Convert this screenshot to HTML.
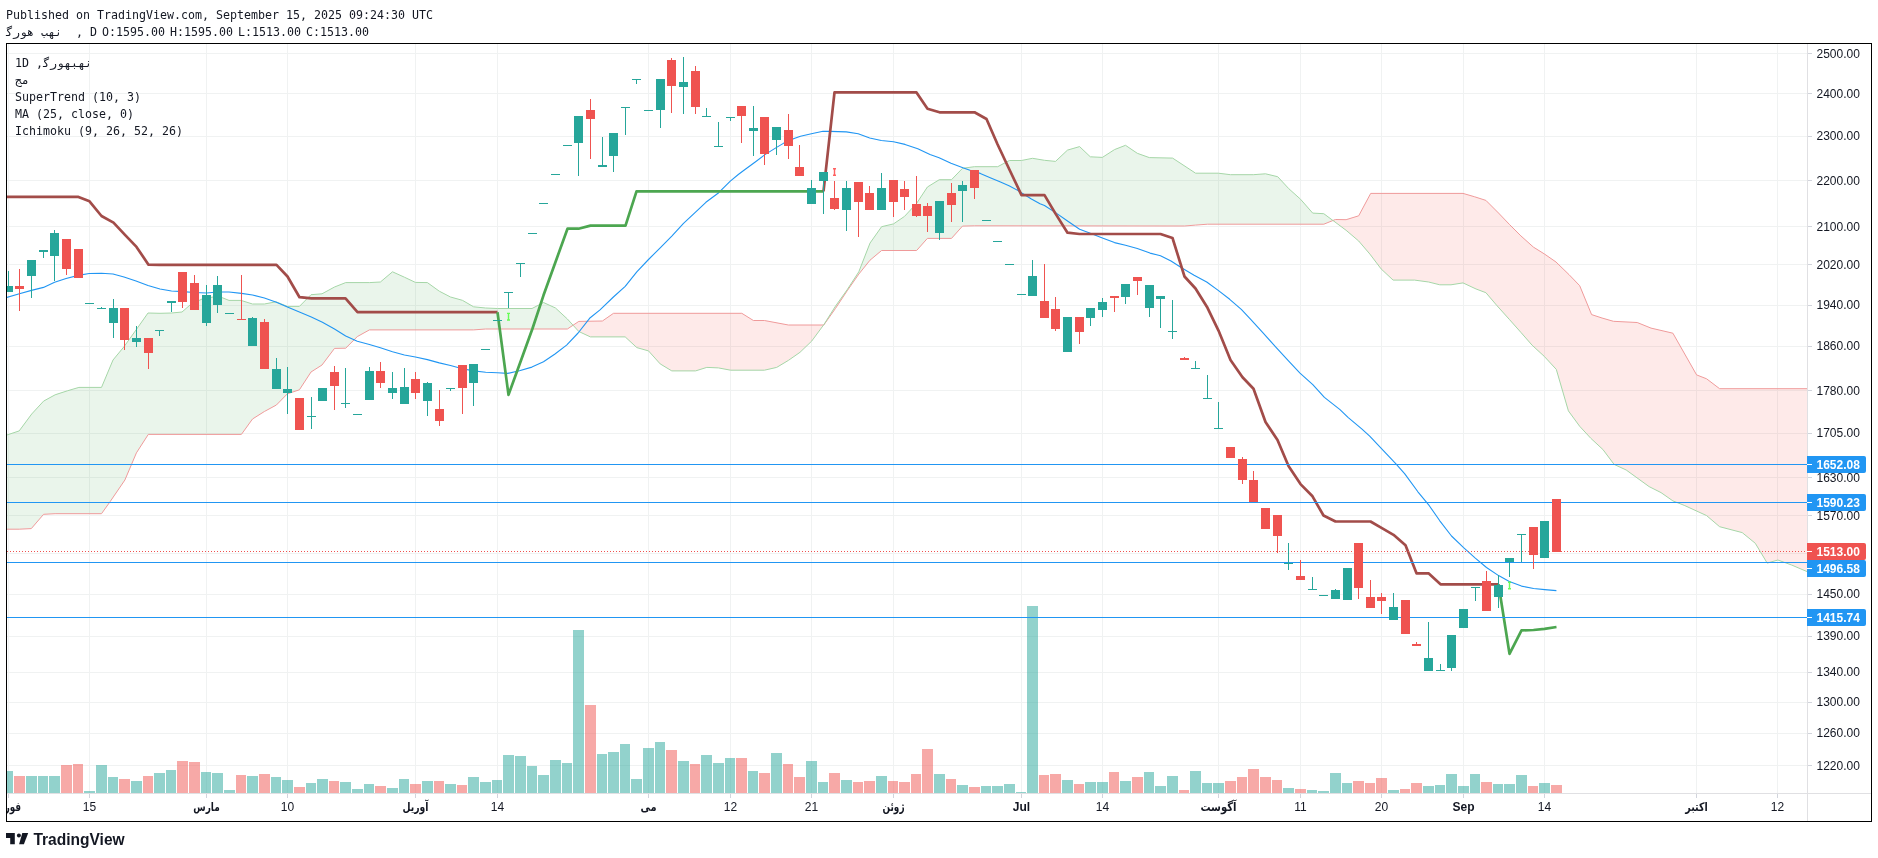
<!DOCTYPE html>
<html><head><meta charset="utf-8"><title>TradingView chart</title>
<style>
html,body{margin:0;padding:0;background:#fff;}
body{width:1878px;height:858px;overflow:hidden;position:relative;}
.mono{font-family:"DejaVu Sans Mono","Liberation Mono",monospace;font-size:11.63px;color:#131722;position:absolute;white-space:pre;line-height:14px;}
.frame{position:absolute;left:6px;top:43px;width:1864px;height:777px;border:1px solid #000;}
.logo{position:absolute;left:6px;top:833px;height:12px;}
.tvtext{position:absolute;left:33px;top:829px;font-family:"Liberation Sans",sans-serif;font-weight:bold;font-size:15.5px;color:#131722;letter-spacing:-0.2px;}
</style></head><body>
<div id="wrap" style="position:absolute;left:0;top:0;width:1878px;height:858px;will-change:transform">
<svg width="1878" height="858" viewBox="0 0 1878 858" style="position:absolute;left:0;top:0">
<defs><clipPath id="pane"><rect x="7" y="44" width="1800" height="749"/></clipPath><clipPath id="taxis" clipPathUnits="userSpaceOnUse"><rect x="7" y="794" width="1800" height="27"/></clipPath></defs>
<g clip-path="url(#pane)">
<line x1="7" y1="53.5" x2="1807" y2="53.5" stroke="#f0f2f2" stroke-width="1"/>
<line x1="7" y1="93.5" x2="1807" y2="93.5" stroke="#f0f2f2" stroke-width="1"/>
<line x1="7" y1="136.5" x2="1807" y2="136.5" stroke="#f0f2f2" stroke-width="1"/>
<line x1="7" y1="180.5" x2="1807" y2="180.5" stroke="#f0f2f2" stroke-width="1"/>
<line x1="7" y1="226.5" x2="1807" y2="226.5" stroke="#f0f2f2" stroke-width="1"/>
<line x1="7" y1="264.5" x2="1807" y2="264.5" stroke="#f0f2f2" stroke-width="1"/>
<line x1="7" y1="305.5" x2="1807" y2="305.5" stroke="#f0f2f2" stroke-width="1"/>
<line x1="7" y1="346.5" x2="1807" y2="346.5" stroke="#f0f2f2" stroke-width="1"/>
<line x1="7" y1="390.5" x2="1807" y2="390.5" stroke="#f0f2f2" stroke-width="1"/>
<line x1="7" y1="433.5" x2="1807" y2="433.5" stroke="#f0f2f2" stroke-width="1"/>
<line x1="7" y1="477.5" x2="1807" y2="477.5" stroke="#f0f2f2" stroke-width="1"/>
<line x1="7" y1="515.5" x2="1807" y2="515.5" stroke="#f0f2f2" stroke-width="1"/>
<line x1="7" y1="553.5" x2="1807" y2="553.5" stroke="#f0f2f2" stroke-width="1"/>
<line x1="7" y1="594.5" x2="1807" y2="594.5" stroke="#f0f2f2" stroke-width="1"/>
<line x1="7" y1="636.5" x2="1807" y2="636.5" stroke="#f0f2f2" stroke-width="1"/>
<line x1="7" y1="672.5" x2="1807" y2="672.5" stroke="#f0f2f2" stroke-width="1"/>
<line x1="7" y1="702.5" x2="1807" y2="702.5" stroke="#f0f2f2" stroke-width="1"/>
<line x1="7" y1="733.5" x2="1807" y2="733.5" stroke="#f0f2f2" stroke-width="1"/>
<line x1="7" y1="765.5" x2="1807" y2="765.5" stroke="#f0f2f2" stroke-width="1"/>
<line x1="8.5" y1="44" x2="8.5" y2="793" stroke="#f0f2f2" stroke-width="1"/>
<line x1="89.5" y1="44" x2="89.5" y2="793" stroke="#f0f2f2" stroke-width="1"/>
<line x1="206.5" y1="44" x2="206.5" y2="793" stroke="#f0f2f2" stroke-width="1"/>
<line x1="287.5" y1="44" x2="287.5" y2="793" stroke="#f0f2f2" stroke-width="1"/>
<line x1="415.5" y1="44" x2="415.5" y2="793" stroke="#f0f2f2" stroke-width="1"/>
<line x1="497.5" y1="44" x2="497.5" y2="793" stroke="#f0f2f2" stroke-width="1"/>
<line x1="648.5" y1="44" x2="648.5" y2="793" stroke="#f0f2f2" stroke-width="1"/>
<line x1="730.5" y1="44" x2="730.5" y2="793" stroke="#f0f2f2" stroke-width="1"/>
<line x1="811.5" y1="44" x2="811.5" y2="793" stroke="#f0f2f2" stroke-width="1"/>
<line x1="893.5" y1="44" x2="893.5" y2="793" stroke="#f0f2f2" stroke-width="1"/>
<line x1="1021.5" y1="44" x2="1021.5" y2="793" stroke="#f0f2f2" stroke-width="1"/>
<line x1="1102.5" y1="44" x2="1102.5" y2="793" stroke="#f0f2f2" stroke-width="1"/>
<line x1="1218.5" y1="44" x2="1218.5" y2="793" stroke="#f0f2f2" stroke-width="1"/>
<line x1="1300.5" y1="44" x2="1300.5" y2="793" stroke="#f0f2f2" stroke-width="1"/>
<line x1="1381.5" y1="44" x2="1381.5" y2="793" stroke="#f0f2f2" stroke-width="1"/>
<line x1="1463.5" y1="44" x2="1463.5" y2="793" stroke="#f0f2f2" stroke-width="1"/>
<line x1="1544.5" y1="44" x2="1544.5" y2="793" stroke="#f0f2f2" stroke-width="1"/>
<line x1="1696.5" y1="44" x2="1696.5" y2="793" stroke="#f0f2f2" stroke-width="1"/>
<line x1="1777.5" y1="44" x2="1777.5" y2="793" stroke="#f0f2f2" stroke-width="1"/>
<rect x="3" y="771" width="10" height="22" fill="rgba(38,166,154,0.5)"/>
<rect x="14" y="776" width="11" height="17" fill="rgba(239,83,80,0.5)"/>
<rect x="26" y="776" width="11" height="17" fill="rgba(38,166,154,0.5)"/>
<rect x="38" y="776" width="10" height="17" fill="rgba(38,166,154,0.5)"/>
<rect x="49" y="776" width="11" height="17" fill="rgba(38,166,154,0.5)"/>
<rect x="61" y="765" width="11" height="28" fill="rgba(239,83,80,0.5)"/>
<rect x="73" y="764" width="10" height="29" fill="rgba(239,83,80,0.5)"/>
<rect x="84" y="791" width="11" height="2" fill="rgba(38,166,154,0.5)"/>
<rect x="96" y="765" width="11" height="28" fill="rgba(38,166,154,0.5)"/>
<rect x="108" y="777" width="10" height="16" fill="rgba(38,166,154,0.5)"/>
<rect x="119" y="779" width="11" height="14" fill="rgba(239,83,80,0.5)"/>
<rect x="131" y="781" width="11" height="12" fill="rgba(38,166,154,0.5)"/>
<rect x="143" y="776" width="10" height="17" fill="rgba(239,83,80,0.5)"/>
<rect x="154" y="773" width="11" height="20" fill="rgba(38,166,154,0.5)"/>
<rect x="166" y="770" width="10" height="23" fill="rgba(38,166,154,0.5)"/>
<rect x="177" y="761" width="11" height="32" fill="rgba(239,83,80,0.5)"/>
<rect x="189" y="762" width="11" height="31" fill="rgba(239,83,80,0.5)"/>
<rect x="201" y="772" width="10" height="21" fill="rgba(38,166,154,0.5)"/>
<rect x="212" y="773" width="11" height="20" fill="rgba(38,166,154,0.5)"/>
<rect x="224" y="790" width="11" height="3" fill="rgba(38,166,154,0.5)"/>
<rect x="236" y="775" width="10" height="18" fill="rgba(239,83,80,0.5)"/>
<rect x="247" y="776" width="11" height="17" fill="rgba(38,166,154,0.5)"/>
<rect x="259" y="774" width="11" height="19" fill="rgba(239,83,80,0.5)"/>
<rect x="271" y="777" width="10" height="16" fill="rgba(38,166,154,0.5)"/>
<rect x="282" y="780" width="11" height="13" fill="rgba(38,166,154,0.5)"/>
<rect x="294" y="787" width="11" height="6" fill="rgba(239,83,80,0.5)"/>
<rect x="306" y="783" width="10" height="10" fill="rgba(38,166,154,0.5)"/>
<rect x="317" y="779" width="11" height="14" fill="rgba(38,166,154,0.5)"/>
<rect x="329" y="781" width="10" height="12" fill="rgba(239,83,80,0.5)"/>
<rect x="340" y="782" width="11" height="11" fill="rgba(38,166,154,0.5)"/>
<rect x="352" y="789" width="11" height="4" fill="rgba(38,166,154,0.5)"/>
<rect x="364" y="784" width="10" height="9" fill="rgba(38,166,154,0.5)"/>
<rect x="375" y="786" width="11" height="7" fill="rgba(239,83,80,0.5)"/>
<rect x="387" y="788" width="11" height="5" fill="rgba(38,166,154,0.5)"/>
<rect x="399" y="779" width="10" height="14" fill="rgba(38,166,154,0.5)"/>
<rect x="410" y="784" width="11" height="9" fill="rgba(239,83,80,0.5)"/>
<rect x="422" y="781" width="11" height="12" fill="rgba(38,166,154,0.5)"/>
<rect x="434" y="781" width="10" height="12" fill="rgba(239,83,80,0.5)"/>
<rect x="445" y="784" width="11" height="9" fill="rgba(38,166,154,0.5)"/>
<rect x="457" y="785" width="10" height="8" fill="rgba(239,83,80,0.5)"/>
<rect x="468" y="777" width="11" height="16" fill="rgba(38,166,154,0.5)"/>
<rect x="480" y="782" width="11" height="11" fill="rgba(38,166,154,0.5)"/>
<rect x="492" y="780" width="10" height="13" fill="rgba(38,166,154,0.5)"/>
<rect x="503" y="755" width="11" height="38" fill="rgba(38,166,154,0.5)"/>
<rect x="515" y="756" width="11" height="37" fill="rgba(38,166,154,0.5)"/>
<rect x="527" y="766" width="10" height="27" fill="rgba(38,166,154,0.5)"/>
<rect x="538" y="775" width="11" height="18" fill="rgba(38,166,154,0.5)"/>
<rect x="550" y="760" width="11" height="33" fill="rgba(38,166,154,0.5)"/>
<rect x="562" y="763" width="10" height="30" fill="rgba(38,166,154,0.5)"/>
<rect x="573" y="630" width="11" height="163" fill="rgba(38,166,154,0.5)"/>
<rect x="585" y="705" width="11" height="88" fill="rgba(239,83,80,0.5)"/>
<rect x="597" y="754" width="10" height="39" fill="rgba(38,166,154,0.5)"/>
<rect x="608" y="752" width="11" height="41" fill="rgba(38,166,154,0.5)"/>
<rect x="620" y="744" width="10" height="49" fill="rgba(38,166,154,0.5)"/>
<rect x="631" y="779" width="11" height="14" fill="rgba(38,166,154,0.5)"/>
<rect x="643" y="748" width="11" height="45" fill="rgba(38,166,154,0.5)"/>
<rect x="655" y="742" width="10" height="51" fill="rgba(38,166,154,0.5)"/>
<rect x="666" y="750" width="11" height="43" fill="rgba(239,83,80,0.5)"/>
<rect x="678" y="761" width="11" height="32" fill="rgba(38,166,154,0.5)"/>
<rect x="690" y="764" width="10" height="29" fill="rgba(239,83,80,0.5)"/>
<rect x="701" y="755" width="11" height="38" fill="rgba(38,166,154,0.5)"/>
<rect x="713" y="763" width="11" height="30" fill="rgba(38,166,154,0.5)"/>
<rect x="725" y="758" width="10" height="35" fill="rgba(38,166,154,0.5)"/>
<rect x="736" y="758" width="11" height="35" fill="rgba(239,83,80,0.5)"/>
<rect x="748" y="771" width="10" height="22" fill="rgba(38,166,154,0.5)"/>
<rect x="759" y="773" width="11" height="20" fill="rgba(239,83,80,0.5)"/>
<rect x="771" y="753" width="11" height="40" fill="rgba(38,166,154,0.5)"/>
<rect x="783" y="764" width="10" height="29" fill="rgba(239,83,80,0.5)"/>
<rect x="794" y="777" width="11" height="16" fill="rgba(239,83,80,0.5)"/>
<rect x="806" y="761" width="11" height="32" fill="rgba(38,166,154,0.5)"/>
<rect x="818" y="782" width="10" height="11" fill="rgba(38,166,154,0.5)"/>
<rect x="829" y="773" width="11" height="20" fill="rgba(239,83,80,0.5)"/>
<rect x="841" y="780" width="11" height="13" fill="rgba(38,166,154,0.5)"/>
<rect x="853" y="782" width="10" height="11" fill="rgba(239,83,80,0.5)"/>
<rect x="864" y="781" width="11" height="12" fill="rgba(239,83,80,0.5)"/>
<rect x="876" y="776" width="11" height="17" fill="rgba(38,166,154,0.5)"/>
<rect x="888" y="781" width="10" height="12" fill="rgba(239,83,80,0.5)"/>
<rect x="899" y="782" width="11" height="11" fill="rgba(239,83,80,0.5)"/>
<rect x="911" y="774" width="10" height="19" fill="rgba(239,83,80,0.5)"/>
<rect x="922" y="749" width="11" height="44" fill="rgba(239,83,80,0.5)"/>
<rect x="934" y="774" width="11" height="19" fill="rgba(38,166,154,0.5)"/>
<rect x="946" y="779" width="10" height="14" fill="rgba(239,83,80,0.5)"/>
<rect x="957" y="785" width="11" height="8" fill="rgba(38,166,154,0.5)"/>
<rect x="969" y="787" width="11" height="6" fill="rgba(239,83,80,0.5)"/>
<rect x="981" y="786" width="10" height="7" fill="rgba(38,166,154,0.5)"/>
<rect x="992" y="786" width="11" height="7" fill="rgba(38,166,154,0.5)"/>
<rect x="1004" y="784" width="11" height="9" fill="rgba(38,166,154,0.5)"/>
<rect x="1016" y="792" width="10" height="1" fill="rgba(38,166,154,0.5)"/>
<rect x="1027" y="606" width="11" height="187" fill="rgba(38,166,154,0.5)"/>
<rect x="1039" y="775" width="10" height="18" fill="rgba(239,83,80,0.5)"/>
<rect x="1050" y="774" width="11" height="19" fill="rgba(239,83,80,0.5)"/>
<rect x="1062" y="780" width="11" height="13" fill="rgba(38,166,154,0.5)"/>
<rect x="1074" y="784" width="10" height="9" fill="rgba(239,83,80,0.5)"/>
<rect x="1085" y="782" width="11" height="11" fill="rgba(38,166,154,0.5)"/>
<rect x="1097" y="782" width="11" height="11" fill="rgba(38,166,154,0.5)"/>
<rect x="1109" y="772" width="10" height="21" fill="rgba(239,83,80,0.5)"/>
<rect x="1120" y="781" width="11" height="12" fill="rgba(38,166,154,0.5)"/>
<rect x="1132" y="777" width="11" height="16" fill="rgba(239,83,80,0.5)"/>
<rect x="1144" y="772" width="10" height="21" fill="rgba(38,166,154,0.5)"/>
<rect x="1155" y="786" width="11" height="7" fill="rgba(38,166,154,0.5)"/>
<rect x="1167" y="776" width="11" height="17" fill="rgba(38,166,154,0.5)"/>
<rect x="1179" y="790" width="10" height="3" fill="rgba(239,83,80,0.5)"/>
<rect x="1190" y="771" width="11" height="22" fill="rgba(38,166,154,0.5)"/>
<rect x="1202" y="783" width="10" height="10" fill="rgba(38,166,154,0.5)"/>
<rect x="1213" y="783" width="11" height="10" fill="rgba(38,166,154,0.5)"/>
<rect x="1225" y="781" width="11" height="12" fill="rgba(239,83,80,0.5)"/>
<rect x="1237" y="777" width="10" height="16" fill="rgba(239,83,80,0.5)"/>
<rect x="1248" y="769" width="11" height="24" fill="rgba(239,83,80,0.5)"/>
<rect x="1260" y="777" width="11" height="16" fill="rgba(239,83,80,0.5)"/>
<rect x="1272" y="780" width="10" height="13" fill="rgba(239,83,80,0.5)"/>
<rect x="1283" y="788" width="11" height="5" fill="rgba(38,166,154,0.5)"/>
<rect x="1295" y="789" width="11" height="4" fill="rgba(239,83,80,0.5)"/>
<rect x="1307" y="790" width="10" height="3" fill="rgba(38,166,154,0.5)"/>
<rect x="1318" y="791" width="11" height="2" fill="rgba(38,166,154,0.5)"/>
<rect x="1330" y="773" width="11" height="20" fill="rgba(38,166,154,0.5)"/>
<rect x="1342" y="783" width="10" height="10" fill="rgba(38,166,154,0.5)"/>
<rect x="1353" y="781" width="11" height="12" fill="rgba(239,83,80,0.5)"/>
<rect x="1365" y="783" width="10" height="10" fill="rgba(239,83,80,0.5)"/>
<rect x="1376" y="778" width="11" height="15" fill="rgba(239,83,80,0.5)"/>
<rect x="1388" y="790" width="11" height="3" fill="rgba(38,166,154,0.5)"/>
<rect x="1400" y="789" width="10" height="4" fill="rgba(239,83,80,0.5)"/>
<rect x="1411" y="783" width="11" height="10" fill="rgba(239,83,80,0.5)"/>
<rect x="1423" y="786" width="11" height="7" fill="rgba(38,166,154,0.5)"/>
<rect x="1435" y="785" width="10" height="8" fill="rgba(38,166,154,0.5)"/>
<rect x="1446" y="774" width="11" height="19" fill="rgba(38,166,154,0.5)"/>
<rect x="1458" y="786" width="11" height="7" fill="rgba(38,166,154,0.5)"/>
<rect x="1470" y="774" width="10" height="19" fill="rgba(38,166,154,0.5)"/>
<rect x="1481" y="782" width="11" height="11" fill="rgba(239,83,80,0.5)"/>
<rect x="1493" y="784" width="10" height="9" fill="rgba(38,166,154,0.5)"/>
<rect x="1504" y="784" width="11" height="9" fill="rgba(38,166,154,0.5)"/>
<rect x="1516" y="775" width="11" height="18" fill="rgba(38,166,154,0.5)"/>
<rect x="1528" y="786" width="10" height="7" fill="rgba(239,83,80,0.5)"/>
<rect x="1539" y="783" width="11" height="10" fill="rgba(38,166,154,0.5)"/>
<rect x="1551" y="785" width="11" height="8" fill="rgba(239,83,80,0.5)"/>
<polygon points="6.9,435 7,434.97 19.2,430.9 31.3,414.54 31.7,414 43.6,401.1 55.1,394.8 67.4,390.8 78.9,387.4 101.5,387.4 110,367.15 113,360 124,346.7 124.9,345.45 136,330 136.4,329.43 148,313 148.3,313.01 160,313.3 171.5,313 182,312 190,305 202,299 213,297 222,297.6 229,300.4 241,300.4 241.4,300.53 252.5,304 264.4,304 276,301.8 276.4,301.96 287.4,306.4 299.4,306.4 311,294.7 322,293.8 334.5,287 345.7,282.6 357.3,282.6 369.4,282.6 380.4,282 392.5,271.8 404.4,277.2 415.4,282.4 427.4,282.6 439.3,291.2 450.5,297 462.4,300.3 473.6,306.8 485.7,308 497.5,308.5 532,308.5 543.5,302.5 555.5,308 567.4,319 573.07,325.22 573.07,325.22 567.4,329 555.5,329 543.5,329 532,329 497.5,329 485.7,329 473.6,329.9 462.4,329.9 450.5,329.9 439.3,329.9 427.4,329.9 415.4,329.9 404.4,329.9 392.5,329.9 380.4,329.9 369.4,329.9 357.3,336.6 345.7,348.2 334.5,348.4 322,365 311,372 299.4,389.8 287.4,393.8 276.4,405 276,405.22 264.4,411.5 252.5,419 241.4,434.4 241,434.4 229,434.4 222,434.4 213,434.4 202,434.4 190,434.4 182,434.4 171.5,434.4 160,434.4 148.3,434.4 148,434.87 136.4,452.9 136,453.84 124.9,480 124,481.32 113,497.41 110,501.8 101.5,513.7 78.9,513.7 67.4,513.7 55.1,513.7 43.6,514.3 31.7,528.13 31.3,528.6 19.2,529.2 7,529.2 6.9,529.2" fill="rgba(67,160,71,0.11)"/>
<polygon points="573.07,325.22 578.8,331.5 590.4,336.9 602.4,336.9 613.5,336.9 625.2,336.9 636.8,347.6 648.5,350.9 660.2,363.9 671.8,370.9 695.6,370.9 706.8,367.4 718.4,367.9 730.6,370.2 741.8,370.2 753.4,370.2 764.4,370.2 776.7,367.4 788.4,360.4 800,352.3 811.7,341.1 823.58,325 823.58,325 811.7,325 800,325 788.4,325 776.7,322.81 764.4,320.5 753.4,320.5 741.8,313.3 730.6,313.3 718.4,313.3 706.8,313.3 695.6,313.3 671.8,313.3 660.2,313.3 648.5,313.3 636.8,313.3 625.2,313.3 613.5,313.3 602.4,321 590.4,321.2 578.8,321.4 573.07,325.22" fill="rgba(244,67,54,0.11)"/>
<polygon points="823.58,325 823.8,324.7 835.5,306.1 847.1,289.8 858.8,271.8 870,243.1 881.6,226.7 893.5,223.9 904.5,216.4 916.6,203.4 927.4,187 939.3,179.7 951.5,179.7 962.5,168.3 974.4,166.7 997.7,166.7 1009.4,160.5 1021.4,160.5 1032.5,158.3 1044.5,160.3 1055.5,161.4 1067.5,150.1 1079.6,146.6 1090.3,156.8 1102.4,157.4 1114.5,149.6 1125.5,145.3 1137.3,153.3 1149.3,157.6 1172.6,158.1 1184.5,165.91 1195.6,173.2 1207.6,173.2 1218.3,173.2 1230.5,174.7 1253.3,174.7 1265.5,173.8 1277.7,176.7 1288.8,188.7 1300.5,199.2 1312.7,213.1 1323.8,213.7 1332.96,220.49 1332.96,220.49 1323.8,224.2 1312.7,224.2 1300.5,224.2 1288.8,224.2 1277.7,224.2 1265.5,224.2 1253.3,224.2 1230.5,224.2 1218.3,224.2 1207.6,224.2 1195.6,225.1 1184.5,226 1172.6,225.99 1149.3,225.97 1137.3,225.96 1125.5,225.94 1114.5,225.93 1102.4,225.92 1090.3,225.91 1079.6,225.9 1067.5,225.89 1055.5,225.88 1044.5,225.87 1032.5,225.86 1021.4,225.84 1009.4,225.83 997.7,225.82 974.4,225.8 962.5,226.1 951.5,238.4 939.3,238.4 927.4,238.4 916.6,250.5 904.5,250.5 893.5,250.5 881.6,250.5 870,260.2 858.8,274.1 847.1,290.9 835.5,308.4 823.8,325 823.58,325" fill="rgba(67,160,71,0.11)"/>
<polygon points="1332.96,220.49 1335,222 1335.4,222.3 1346.1,230.3 1358.7,241 1369.9,254.1 1370.7,255.16 1381.1,268.9 1393.1,280.1 1414.6,280.1 1428.6,282 1439.8,284.8 1451,284.8 1463,282.9 1474.7,288.35 1476.1,289 1485.9,292.7 1497.1,305.8 1498.5,307.36 1509.7,319.8 1520.9,332.4 1532.1,345.2 1533.4,346.39 1544.2,356.3 1544.6,356.73 1556,369.08 1556.3,369.4 1568.4,410.9 1569,411.72 1579.6,426.2 1579.7,426.31 1590.8,438.3 1591.6,439.04 1602,448.67 1602.9,449.5 1613.4,463.47 1614.1,464.4 1626.2,470 1637.2,477.97 1649.1,486.6 1651,487.56 1661,492.6 1672.9,500.9 1684.8,505.6 1696.6,511.01 1706.6,515.6 1719.6,526.7 1742.2,532.6 1755.3,543.3 1767.2,563.1 1777.9,560 1791.8,565.1 1808,572 1808,388.7 1791.8,388.7 1777.9,388.7 1767.2,388.7 1755.3,388.7 1742.2,388.7 1719.6,388.7 1706.6,378.8 1696.6,374.9 1684.8,354.14 1672.9,333.2 1661,330.43 1651,328.1 1649.1,327.33 1637.2,322.5 1626.2,321.95 1614.1,321.34 1613.4,321.3 1602.9,318.26 1602,318 1591.6,314.6 1590.8,312.66 1579.7,285.7 1579.6,285.6 1569,274.6 1568.4,274.02 1556.3,262.29 1556,262 1544.6,254.1 1544.2,253.85 1533.4,247.1 1532.1,245.94 1520.9,235.9 1509.7,224.7 1498.5,213 1497.1,211.6 1485.9,200.4 1476.1,197.25 1474.7,196.8 1463,193.4 1451,193.4 1439.8,193.4 1428.6,193.4 1414.6,193.4 1393.1,193.4 1381.1,193.4 1370.7,193.4 1369.9,194.89 1358.7,215.8 1346.1,219.7 1335.4,219.5 1335,219.66 1332.96,220.49" fill="rgba(244,67,54,0.11)"/>
<polyline points="6.9,529.2 19.2,529.2 31.3,528.6 43.6,514.3 55.1,513.7 101.5,513.7 110,501.8 124.9,480 136.4,452.9 148.3,434.4 241.4,434.4 252.5,419 264.4,411.5 276.4,405 287.4,393.8 299.4,389.8 311,372 322,365 334.5,348.4 345.7,348.2 357.3,336.6 369.4,329.9 473.6,329.9 485.7,329 567.4,329 578.8,321.4 602.4,321 613.5,313.3 741.8,313.3 753.4,320.5 764.4,320.5 788.4,325 823.8,325 835.5,308.4 847.1,290.9 858.8,274.1 870,260.2 881.6,250.5 916.6,250.5 927.4,238.4 951.5,238.4 962.5,226.1 974.4,225.8 1184.5,226 1195.6,225.1 1207.6,224.2 1323.8,224.2 1335.4,219.5 1346.1,219.7 1358.7,215.8 1370.7,193.4 1463,193.4 1474.7,196.8 1485.9,200.4 1498.5,213 1509.7,224.7 1520.9,235.9 1533.4,247.1 1544.6,254.1 1556,262 1569,274.6 1579.7,285.7 1591.6,314.6 1602,318 1613.4,321.3 1637.2,322.5 1651,328.1 1672.9,333.2 1696.6,374.9 1706.6,378.8 1719.6,388.7 1808,388.7" fill="none" stroke="#ef9a9a" stroke-width="1" stroke-linejoin="round" />
<polyline points="6.9,435 19.2,430.9 31.7,414 43.6,401.1 55.1,394.8 67.4,390.8 78.9,387.4 101.5,387.4 113,360 124,346.7 136,330 148,313 160,313.3 171.5,313 182,312 190,305 202,299 213,297 222,297.6 229,300.4 241,300.4 252.5,304 264.4,304 276,301.8 287.4,306.4 299.4,306.4 311,294.7 322,293.8 334.5,287 345.7,282.6 369.4,282.6 380.4,282 392.5,271.8 404.4,277.2 415.4,282.4 427.4,282.6 439.3,291.2 450.5,297 462.4,300.3 473.6,306.8 485.7,308 497.5,308.5 532,308.5 543.5,302.5 555.5,308 567.4,319 578.8,331.5 590.4,336.9 625.2,336.9 636.8,347.6 648.5,350.9 660.2,363.9 671.8,370.9 695.6,370.9 706.8,367.4 718.4,367.9 730.6,370.2 764.4,370.2 776.7,367.4 788.4,360.4 800,352.3 811.7,341.1 823.8,324.7 835.5,306.1 847.1,289.8 858.8,271.8 870,243.1 881.6,226.7 893.5,223.9 904.5,216.4 916.6,203.4 927.4,187 939.3,179.7 951.5,179.7 962.5,168.3 974.4,166.7 997.7,166.7 1009.4,160.5 1021.4,160.5 1032.5,158.3 1044.5,160.3 1055.5,161.4 1067.5,150.1 1079.6,146.6 1090.3,156.8 1102.4,157.4 1114.5,149.6 1125.5,145.3 1137.3,153.3 1149.3,157.6 1172.6,158.1 1195.6,173.2 1218.3,173.2 1230.5,174.7 1253.3,174.7 1265.5,173.8 1277.7,176.7 1288.8,188.7 1300.5,199.2 1312.7,213.1 1323.8,213.7 1335,222 1346.1,230.3 1358.7,241 1369.9,254.1 1381.1,268.9 1393.1,280.1 1414.6,280.1 1428.6,282 1439.8,284.8 1451,284.8 1463,282.9 1476.1,289 1485.9,292.7 1497.1,305.8 1509.7,319.8 1520.9,332.4 1532.1,345.2 1544.2,356.3 1556.3,369.4 1568.4,410.9 1579.6,426.2 1590.8,438.3 1602.9,449.5 1614.1,464.4 1626.2,470 1649.1,486.6 1661,492.6 1672.9,500.9 1684.8,505.6 1706.6,515.6 1719.6,526.7 1742.2,532.6 1755.3,543.3 1767.2,563.1 1777.9,560 1791.8,565.1 1808,572" fill="none" stroke="#a5d6a7" stroke-width="1" stroke-linejoin="round" />
<polyline points="6.8,297.4 19.4,293.7 31.5,290.4 43.5,287.4 54.6,282.2 66.1,278.5 78.2,275.4 89.2,273.5 101.5,273.3 113,274 124,277 136,281 148,285.5 160,289 171.5,291 182.6,291.6 194.5,292.5 206.5,293 217.5,292 229,292 241.4,293.4 252.5,295 264.4,298 276.4,302.2 287.4,307 299.4,312 311.3,317 322.4,322.3 334.5,329 345.7,336 357.3,341.3 369.4,344.5 380.4,347.8 392.5,351.7 404.4,355 415.4,357 427.4,359.6 439.3,362.9 450.5,365.5 462.4,368.7 473.6,370.9 485.7,372.2 497.3,372.8 507.8,373.4 519.4,370.7 531.9,367.1 543.5,361.8 555,354 566.6,345.1 578.1,333 589.6,318.3 600,309.9 613.4,297 625.2,286.3 636.8,271.8 648.5,259.5 660.2,247.8 671.8,236.1 683.5,223.3 695,212.6 705.9,202.3 718.7,192.7 730.3,181.2 738.3,174.5 746,168.7 755.6,161.7 764.6,154.9 776.2,147.6 783.8,143.1 794.1,138.6 800.5,136.3 811.4,133.8 823,131.2 830,131.4 846.3,131.9 858.2,133.8 869.7,138 881.3,140.5 893.5,141.8 905,144.4 917.8,148.8 930,154.5 939.1,157.7 951,163.3 962.9,167.8 972,171 980.3,173.4 990.8,178 999.9,181.8 1009,185.7 1018.1,190.6 1023,193.7 1031.4,199 1040,203.8 1044.5,205.5 1055.5,212.6 1067.5,221 1079.6,229.2 1090.3,233.2 1102.4,238 1114.5,242.6 1125.5,245.3 1137.3,248.5 1150,253.1 1160.5,255.7 1171,261 1181.5,267.8 1194.1,275.2 1206.7,282 1218.2,290.4 1229.7,299.3 1241.3,309.3 1250,318.7 1262.8,332.7 1275.6,346.8 1288.5,360.9 1300,373.1 1312.8,384.6 1324.4,397.4 1340,409.6 1348,417.3 1362,429.2 1369.7,436.2 1381.5,448.7 1395.5,463.4 1404.6,473.6 1417.9,491.8 1429.3,505.7 1439.8,520.8 1451.5,536 1463.6,547.6 1475.3,558.1 1486.5,567.5 1498.6,575.6 1509.3,581.5 1521.5,586.1 1533.6,588.5 1544.8,589.6 1556.4,590.6" fill="none" stroke="#2196f3" stroke-width="1.1" stroke-linejoin="round" />
<polyline points="7,196.9 8.5,196.9 19.5,196.9 31.5,196.9 43.5,196.9 54.5,196.9 66.5,196.9 78.5,196.9 89.5,201.3 101.5,216 113.5,222.6 124.5,234.3 136.5,246.9 148.5,264.7 159.5,264.9 171.5,264.9 182.5,264.9 194.5,264.9 206.5,264.9 217.5,264.9 229.5,264.9 241.5,264.9 252.5,264.9 264.5,264.9 276.5,264.9 287.5,276.5 299.5,297.2 311.5,298.3 322.5,298.3 334.5,298.3 345.5,298.3 357.5,312.2 369.5,312.2 380.5,312.2 392.5,312.2 404.5,312.2 415.5,312.2 427.5,312.2 439.5,312.2 450.5,312.2 462.5,312.2 473.5,312.2 485.5,312.2 497.5,312.2" fill="none" stroke="#a24c49" stroke-width="2.7" stroke-linejoin="round" stroke-linecap="butt"/>
<polyline points="497.5,312.2 508.5,394.9 520.5,361.7 532.5,328.5 543.5,295.3 555.5,262 567.5,228.7 578.5,228.7 590.5,225.6 602.5,225.6 613.5,225.6 625.5,225.6 636.5,191.4 648.5,191.4 660.5,191.4 671.5,191.4 683.5,191.4 695.5,191.4 706.5,191.4 718.5,191.4 730.5,191.4 741.5,191.4 753.5,191.4 764.5,191.4 776.5,191.4 788.5,191.4 799.5,191.4 811.5,191.4 823.5,191.4" fill="none" stroke="#4ca650" stroke-width="2.7" stroke-linejoin="round" stroke-linecap="butt"/>
<polyline points="823.5,191.4 834.5,92.4 846.5,92.4 858.5,92.4 869.5,92.4 881.5,92.4 893.5,92.4 904.5,92.4 916.5,92.4 927.5,108.8 939.5,112.3 951.5,112.3 962.5,112.3 974.5,112.3 986.5,119 997.5,144.3 1009.5,169.8 1021.5,195.1 1032.5,195.1 1044.5,195.1 1055.5,213.6 1067.5,232.7 1079.5,234 1090.5,234 1102.5,234 1114.5,234 1125.5,234 1137.5,234 1149.5,234 1160.5,234 1172.5,238 1184.5,276.5 1195.5,288.5 1207.5,307.8 1218.5,330.6 1230.5,360 1242.5,377.3 1253.5,388.7 1265.5,422 1277.5,440 1288.5,466.1 1300.5,484.1 1312.5,496.3 1323.5,515.5 1335.5,521.5 1347.5,521.5 1358.5,521.5 1370.5,521.5 1381.5,527.8 1393.5,534.8 1405.5,545.3 1416.5,573.3 1428.5,573.3 1440.5,584.3 1451.5,584.3 1463.5,584.3 1475.5,584.3 1486.5,584.3 1498.5,584.3" fill="none" stroke="#a24c49" stroke-width="2.7" stroke-linejoin="round" stroke-linecap="butt"/>
<polyline points="1498.5,584.3 1509.5,653.8 1521.5,630.4 1533.5,630 1544.5,628.8 1556.5,627" fill="none" stroke="#4ca650" stroke-width="2.7" stroke-linejoin="round" stroke-linecap="butt"/>
<line x1="7" y1="464.5" x2="1807" y2="464.5" stroke="#2196f3" stroke-width="1"/>
<line x1="7" y1="502.5" x2="1807" y2="502.5" stroke="#2196f3" stroke-width="1"/>
<line x1="7" y1="562.5" x2="1807" y2="562.5" stroke="#2196f3" stroke-width="1"/>
<line x1="7" y1="617.5" x2="1807" y2="617.5" stroke="#2196f3" stroke-width="1"/>
<line x1="7" y1="551.5" x2="1807" y2="551.5" stroke="#ef5350" stroke-width="1" stroke-dasharray="1 2"/>
<path d="M507,313.4h3M507,320.0h3M508.5,313.4v6.6" stroke="rgba(80,255,60,0.85)" stroke-width="1.4" fill="none"/>
<path d="M1508,582.2h3M1508,588.8h3M1509.5,582.2v6.6" stroke="rgba(80,255,60,0.85)" stroke-width="1.4" fill="none"/>
<path d="M833,168.7h3M833,175.3h3M834.5,168.7v6.6" stroke="rgba(255,70,70,0.85)" stroke-width="1.4" fill="none"/>
<rect x="8" y="271" width="1" height="21" fill="#26a69a"/>
<rect x="4" y="286" width="9" height="6" fill="#26a69a"/>
<rect x="19" y="269" width="1" height="42" fill="#ef5350"/>
<rect x="15" y="286" width="9" height="3" fill="#ef5350"/>
<rect x="31" y="260" width="1" height="38" fill="#26a69a"/>
<rect x="27" y="260" width="9" height="16" fill="#26a69a"/>
<rect x="43" y="250" width="1" height="8" fill="#26a69a"/>
<rect x="39" y="250" width="9" height="2" fill="#26a69a"/>
<rect x="54" y="230" width="1" height="51" fill="#26a69a"/>
<rect x="50" y="233" width="9" height="23" fill="#26a69a"/>
<rect x="66" y="239" width="1" height="36" fill="#ef5350"/>
<rect x="62" y="239" width="9" height="30" fill="#ef5350"/>
<rect x="78" y="249" width="1" height="29" fill="#ef5350"/>
<rect x="74" y="249" width="9" height="29" fill="#ef5350"/>
<rect x="85" y="303" width="9" height="1" fill="#26a69a"/>
<rect x="101" y="307" width="1" height="1" fill="#26a69a"/>
<rect x="97" y="308" width="9" height="1" fill="#26a69a"/>
<rect x="113" y="299" width="1" height="39" fill="#26a69a"/>
<rect x="109" y="308" width="9" height="15" fill="#26a69a"/>
<rect x="124" y="308" width="1" height="42" fill="#ef5350"/>
<rect x="120" y="308" width="9" height="32" fill="#ef5350"/>
<rect x="136" y="326" width="1" height="21" fill="#26a69a"/>
<rect x="132" y="338" width="9" height="4" fill="#26a69a"/>
<rect x="148" y="338" width="1" height="31" fill="#ef5350"/>
<rect x="144" y="338" width="9" height="15" fill="#ef5350"/>
<rect x="159" y="330" width="1" height="6" fill="#26a69a"/>
<rect x="155" y="330" width="9" height="1" fill="#26a69a"/>
<rect x="171" y="301" width="1" height="11" fill="#26a69a"/>
<rect x="167" y="301" width="9" height="2" fill="#26a69a"/>
<rect x="182" y="272" width="1" height="36" fill="#ef5350"/>
<rect x="178" y="272" width="9" height="30" fill="#ef5350"/>
<rect x="194" y="275" width="1" height="35" fill="#ef5350"/>
<rect x="190" y="283" width="9" height="27" fill="#ef5350"/>
<rect x="206" y="285" width="1" height="41" fill="#26a69a"/>
<rect x="202" y="295" width="9" height="28" fill="#26a69a"/>
<rect x="217" y="276" width="1" height="37" fill="#26a69a"/>
<rect x="213" y="285" width="9" height="20" fill="#26a69a"/>
<rect x="225" y="313" width="9" height="1" fill="#26a69a"/>
<rect x="241" y="275" width="1" height="45" fill="#ef5350"/>
<rect x="237" y="319" width="9" height="1" fill="#ef5350"/>
<rect x="252" y="317" width="1" height="29" fill="#26a69a"/>
<rect x="248" y="318" width="9" height="28" fill="#26a69a"/>
<rect x="264" y="319" width="1" height="50" fill="#ef5350"/>
<rect x="260" y="322" width="9" height="47" fill="#ef5350"/>
<rect x="276" y="358" width="1" height="31" fill="#26a69a"/>
<rect x="272" y="369" width="9" height="20" fill="#26a69a"/>
<rect x="287" y="367" width="1" height="47" fill="#26a69a"/>
<rect x="283" y="389" width="9" height="4" fill="#26a69a"/>
<rect x="299" y="398" width="1" height="32" fill="#ef5350"/>
<rect x="295" y="398" width="9" height="32" fill="#ef5350"/>
<rect x="311" y="397" width="1" height="32" fill="#26a69a"/>
<rect x="307" y="416" width="9" height="1" fill="#26a69a"/>
<rect x="322" y="388" width="1" height="13" fill="#26a69a"/>
<rect x="318" y="388" width="9" height="13" fill="#26a69a"/>
<rect x="334" y="366" width="1" height="44" fill="#ef5350"/>
<rect x="330" y="372" width="9" height="14" fill="#ef5350"/>
<rect x="345" y="368" width="1" height="40" fill="#26a69a"/>
<rect x="341" y="403" width="9" height="1" fill="#26a69a"/>
<rect x="353" y="414" width="9" height="1" fill="#26a69a"/>
<rect x="369" y="367" width="1" height="33" fill="#26a69a"/>
<rect x="365" y="371" width="9" height="29" fill="#26a69a"/>
<rect x="380" y="362" width="1" height="26" fill="#ef5350"/>
<rect x="376" y="371" width="9" height="12" fill="#ef5350"/>
<rect x="392" y="372" width="1" height="27" fill="#26a69a"/>
<rect x="388" y="388" width="9" height="5" fill="#26a69a"/>
<rect x="404" y="368" width="1" height="36" fill="#26a69a"/>
<rect x="400" y="387" width="9" height="17" fill="#26a69a"/>
<rect x="415" y="372" width="1" height="27" fill="#ef5350"/>
<rect x="411" y="379" width="9" height="14" fill="#ef5350"/>
<rect x="427" y="382" width="1" height="34" fill="#26a69a"/>
<rect x="423" y="383" width="9" height="18" fill="#26a69a"/>
<rect x="439" y="390" width="1" height="36" fill="#ef5350"/>
<rect x="435" y="409" width="9" height="12" fill="#ef5350"/>
<rect x="450" y="388" width="1" height="3" fill="#26a69a"/>
<rect x="446" y="388" width="9" height="1" fill="#26a69a"/>
<rect x="462" y="365" width="1" height="49" fill="#ef5350"/>
<rect x="458" y="365" width="9" height="23" fill="#ef5350"/>
<rect x="473" y="364" width="1" height="42" fill="#26a69a"/>
<rect x="469" y="364" width="9" height="19" fill="#26a69a"/>
<rect x="481" y="349" width="9" height="1" fill="#26a69a"/>
<rect x="493" y="320" width="9" height="1" fill="#26a69a"/>
<rect x="508" y="292" width="1" height="16" fill="#26a69a"/>
<rect x="504" y="292" width="9" height="1" fill="#26a69a"/>
<rect x="520" y="263" width="1" height="14" fill="#26a69a"/>
<rect x="516" y="263" width="9" height="1" fill="#26a69a"/>
<rect x="528" y="233" width="9" height="1" fill="#26a69a"/>
<rect x="539" y="203" width="9" height="1" fill="#26a69a"/>
<rect x="551" y="174" width="9" height="1" fill="#26a69a"/>
<rect x="563" y="145" width="9" height="1" fill="#26a69a"/>
<rect x="578" y="116" width="1" height="60" fill="#26a69a"/>
<rect x="574" y="116" width="9" height="27" fill="#26a69a"/>
<rect x="590" y="99" width="1" height="60" fill="#ef5350"/>
<rect x="586" y="110" width="9" height="9" fill="#ef5350"/>
<rect x="602" y="137" width="1" height="30" fill="#26a69a"/>
<rect x="598" y="165" width="9" height="2" fill="#26a69a"/>
<rect x="613" y="133" width="1" height="39" fill="#26a69a"/>
<rect x="609" y="133" width="9" height="23" fill="#26a69a"/>
<rect x="625" y="107" width="1" height="28" fill="#26a69a"/>
<rect x="621" y="107" width="9" height="1" fill="#26a69a"/>
<rect x="636" y="79" width="1" height="5" fill="#26a69a"/>
<rect x="632" y="79" width="9" height="1" fill="#26a69a"/>
<rect x="644" y="110" width="9" height="1" fill="#26a69a"/>
<rect x="660" y="79" width="1" height="49" fill="#26a69a"/>
<rect x="656" y="79" width="9" height="31" fill="#26a69a"/>
<rect x="671" y="58" width="1" height="55" fill="#ef5350"/>
<rect x="667" y="60" width="9" height="26" fill="#ef5350"/>
<rect x="683" y="57" width="1" height="57" fill="#26a69a"/>
<rect x="679" y="82" width="9" height="5" fill="#26a69a"/>
<rect x="695" y="66" width="1" height="48" fill="#ef5350"/>
<rect x="691" y="71" width="9" height="36" fill="#ef5350"/>
<rect x="706" y="108" width="1" height="9" fill="#26a69a"/>
<rect x="702" y="116" width="9" height="1" fill="#26a69a"/>
<rect x="718" y="122" width="1" height="24" fill="#26a69a"/>
<rect x="714" y="146" width="9" height="1" fill="#26a69a"/>
<rect x="730" y="117" width="1" height="4" fill="#26a69a"/>
<rect x="726" y="117" width="9" height="1" fill="#26a69a"/>
<rect x="741" y="106" width="1" height="37" fill="#ef5350"/>
<rect x="737" y="106" width="9" height="10" fill="#ef5350"/>
<rect x="753" y="106" width="1" height="50" fill="#26a69a"/>
<rect x="749" y="128" width="9" height="3" fill="#26a69a"/>
<rect x="764" y="117" width="1" height="48" fill="#ef5350"/>
<rect x="760" y="117" width="9" height="37" fill="#ef5350"/>
<rect x="776" y="127" width="1" height="28" fill="#26a69a"/>
<rect x="772" y="127" width="9" height="13" fill="#26a69a"/>
<rect x="788" y="114" width="1" height="45" fill="#ef5350"/>
<rect x="784" y="130" width="9" height="16" fill="#ef5350"/>
<rect x="799" y="145" width="1" height="31" fill="#ef5350"/>
<rect x="795" y="167" width="9" height="9" fill="#ef5350"/>
<rect x="811" y="180" width="1" height="24" fill="#26a69a"/>
<rect x="807" y="188" width="9" height="16" fill="#26a69a"/>
<rect x="823" y="172" width="1" height="42" fill="#26a69a"/>
<rect x="819" y="172" width="9" height="9" fill="#26a69a"/>
<rect x="834" y="181" width="1" height="29" fill="#ef5350"/>
<rect x="830" y="198" width="9" height="11" fill="#ef5350"/>
<rect x="846" y="181" width="1" height="50" fill="#26a69a"/>
<rect x="842" y="188" width="9" height="22" fill="#26a69a"/>
<rect x="858" y="182" width="1" height="55" fill="#ef5350"/>
<rect x="854" y="182" width="9" height="20" fill="#ef5350"/>
<rect x="869" y="186" width="1" height="24" fill="#ef5350"/>
<rect x="865" y="193" width="9" height="17" fill="#ef5350"/>
<rect x="881" y="173" width="1" height="37" fill="#26a69a"/>
<rect x="877" y="188" width="9" height="22" fill="#26a69a"/>
<rect x="893" y="180" width="1" height="37" fill="#ef5350"/>
<rect x="889" y="180" width="9" height="22" fill="#ef5350"/>
<rect x="904" y="181" width="1" height="29" fill="#ef5350"/>
<rect x="900" y="189" width="9" height="8" fill="#ef5350"/>
<rect x="916" y="176" width="1" height="41" fill="#ef5350"/>
<rect x="912" y="204" width="9" height="12" fill="#ef5350"/>
<rect x="927" y="203" width="1" height="29" fill="#ef5350"/>
<rect x="923" y="206" width="9" height="10" fill="#ef5350"/>
<rect x="939" y="201" width="1" height="39" fill="#26a69a"/>
<rect x="935" y="201" width="9" height="32" fill="#26a69a"/>
<rect x="951" y="183" width="1" height="39" fill="#ef5350"/>
<rect x="947" y="193" width="9" height="12" fill="#ef5350"/>
<rect x="962" y="181" width="1" height="41" fill="#26a69a"/>
<rect x="958" y="185" width="9" height="6" fill="#26a69a"/>
<rect x="974" y="170" width="1" height="29" fill="#ef5350"/>
<rect x="970" y="170" width="9" height="18" fill="#ef5350"/>
<rect x="982" y="220" width="9" height="1" fill="#26a69a"/>
<rect x="993" y="241" width="9" height="1" fill="#26a69a"/>
<rect x="1005" y="264" width="9" height="1" fill="#26a69a"/>
<rect x="1017" y="294" width="9" height="1" fill="#26a69a"/>
<rect x="1032" y="260" width="1" height="36" fill="#26a69a"/>
<rect x="1028" y="276" width="9" height="20" fill="#26a69a"/>
<rect x="1044" y="264" width="1" height="54" fill="#ef5350"/>
<rect x="1040" y="301" width="9" height="17" fill="#ef5350"/>
<rect x="1055" y="297" width="1" height="34" fill="#ef5350"/>
<rect x="1051" y="309" width="9" height="20" fill="#ef5350"/>
<rect x="1067" y="317" width="1" height="35" fill="#26a69a"/>
<rect x="1063" y="317" width="9" height="35" fill="#26a69a"/>
<rect x="1079" y="317" width="1" height="27" fill="#ef5350"/>
<rect x="1075" y="317" width="9" height="15" fill="#ef5350"/>
<rect x="1090" y="308" width="1" height="18" fill="#26a69a"/>
<rect x="1086" y="308" width="9" height="10" fill="#26a69a"/>
<rect x="1102" y="298" width="1" height="19" fill="#26a69a"/>
<rect x="1098" y="302" width="9" height="8" fill="#26a69a"/>
<rect x="1114" y="296" width="1" height="16" fill="#ef5350"/>
<rect x="1110" y="296" width="9" height="2" fill="#ef5350"/>
<rect x="1125" y="284" width="1" height="20" fill="#26a69a"/>
<rect x="1121" y="284" width="9" height="13" fill="#26a69a"/>
<rect x="1137" y="277" width="1" height="18" fill="#ef5350"/>
<rect x="1133" y="277" width="9" height="4" fill="#ef5350"/>
<rect x="1149" y="285" width="1" height="32" fill="#26a69a"/>
<rect x="1145" y="285" width="9" height="23" fill="#26a69a"/>
<rect x="1160" y="296" width="1" height="32" fill="#26a69a"/>
<rect x="1156" y="296" width="9" height="3" fill="#26a69a"/>
<rect x="1172" y="300" width="1" height="39" fill="#26a69a"/>
<rect x="1168" y="331" width="9" height="1" fill="#26a69a"/>
<rect x="1184" y="357" width="1" height="3" fill="#ef5350"/>
<rect x="1180" y="358" width="9" height="2" fill="#ef5350"/>
<rect x="1195" y="361" width="1" height="7" fill="#26a69a"/>
<rect x="1191" y="368" width="9" height="1" fill="#26a69a"/>
<rect x="1207" y="375" width="1" height="23" fill="#26a69a"/>
<rect x="1203" y="398" width="9" height="1" fill="#26a69a"/>
<rect x="1218" y="402" width="1" height="26" fill="#26a69a"/>
<rect x="1214" y="428" width="9" height="1" fill="#26a69a"/>
<rect x="1230" y="447" width="1" height="11" fill="#ef5350"/>
<rect x="1226" y="447" width="9" height="11" fill="#ef5350"/>
<rect x="1242" y="457" width="1" height="27" fill="#ef5350"/>
<rect x="1238" y="459" width="9" height="21" fill="#ef5350"/>
<rect x="1253" y="471" width="1" height="31" fill="#ef5350"/>
<rect x="1249" y="480" width="9" height="22" fill="#ef5350"/>
<rect x="1265" y="508" width="1" height="21" fill="#ef5350"/>
<rect x="1261" y="508" width="9" height="21" fill="#ef5350"/>
<rect x="1277" y="515" width="1" height="38" fill="#ef5350"/>
<rect x="1273" y="515" width="9" height="21" fill="#ef5350"/>
<rect x="1288" y="543" width="1" height="27" fill="#26a69a"/>
<rect x="1284" y="563" width="9" height="1" fill="#26a69a"/>
<rect x="1300" y="560" width="1" height="20" fill="#ef5350"/>
<rect x="1296" y="576" width="9" height="4" fill="#ef5350"/>
<rect x="1312" y="577" width="1" height="12" fill="#26a69a"/>
<rect x="1308" y="589" width="9" height="1" fill="#26a69a"/>
<rect x="1319" y="595" width="9" height="1" fill="#26a69a"/>
<rect x="1335" y="589" width="1" height="10" fill="#26a69a"/>
<rect x="1331" y="590" width="9" height="9" fill="#26a69a"/>
<rect x="1347" y="568" width="1" height="32" fill="#26a69a"/>
<rect x="1343" y="568" width="9" height="32" fill="#26a69a"/>
<rect x="1358" y="543" width="1" height="56" fill="#ef5350"/>
<rect x="1354" y="543" width="9" height="45" fill="#ef5350"/>
<rect x="1370" y="580" width="1" height="28" fill="#ef5350"/>
<rect x="1366" y="597" width="9" height="11" fill="#ef5350"/>
<rect x="1381" y="593" width="1" height="21" fill="#ef5350"/>
<rect x="1377" y="597" width="9" height="4" fill="#ef5350"/>
<rect x="1393" y="593" width="1" height="27" fill="#26a69a"/>
<rect x="1389" y="607" width="9" height="13" fill="#26a69a"/>
<rect x="1405" y="600" width="1" height="34" fill="#ef5350"/>
<rect x="1401" y="600" width="9" height="34" fill="#ef5350"/>
<rect x="1416" y="642" width="1" height="4" fill="#ef5350"/>
<rect x="1412" y="644" width="9" height="2" fill="#ef5350"/>
<rect x="1428" y="622" width="1" height="49" fill="#26a69a"/>
<rect x="1424" y="658" width="9" height="13" fill="#26a69a"/>
<rect x="1440" y="664" width="1" height="6" fill="#26a69a"/>
<rect x="1436" y="670" width="9" height="1" fill="#26a69a"/>
<rect x="1451" y="635" width="1" height="36" fill="#26a69a"/>
<rect x="1447" y="635" width="9" height="33" fill="#26a69a"/>
<rect x="1463" y="609" width="1" height="19" fill="#26a69a"/>
<rect x="1459" y="609" width="9" height="19" fill="#26a69a"/>
<rect x="1475" y="587" width="1" height="14" fill="#26a69a"/>
<rect x="1471" y="587" width="9" height="1" fill="#26a69a"/>
<rect x="1486" y="571" width="1" height="40" fill="#ef5350"/>
<rect x="1482" y="581" width="9" height="30" fill="#ef5350"/>
<rect x="1498" y="575" width="1" height="33" fill="#26a69a"/>
<rect x="1494" y="585" width="9" height="12" fill="#26a69a"/>
<rect x="1509" y="558" width="1" height="19" fill="#26a69a"/>
<rect x="1505" y="558" width="9" height="4" fill="#26a69a"/>
<rect x="1521" y="534" width="1" height="28" fill="#26a69a"/>
<rect x="1517" y="534" width="9" height="1" fill="#26a69a"/>
<rect x="1533" y="527" width="1" height="42" fill="#ef5350"/>
<rect x="1529" y="527" width="9" height="28" fill="#ef5350"/>
<rect x="1544" y="521" width="1" height="37" fill="#26a69a"/>
<rect x="1540" y="521" width="9" height="37" fill="#26a69a"/>
<rect x="1556" y="499" width="1" height="53" fill="#ef5350"/>
<rect x="1552" y="499" width="9" height="53" fill="#ef5350"/>
</g>
<line x1="7" y1="793.5" x2="1871" y2="793.5" stroke="#e0e0e3" stroke-width="1"/>
<line x1="1807.5" y1="44" x2="1807.5" y2="821" stroke="#e0e0e3" stroke-width="1"/>
<g font-family="Liberation Sans, DejaVu Sans, sans-serif" font-size="12" fill="#131722">
<line x1="8.5" y1="794" x2="8.5" y2="798" stroke="#d1d4dc" stroke-width="1"/>
<text x="8.5" y="811" text-anchor="middle" clip-path="url(#taxis)" font-weight="bold" textLength="25" lengthAdjust="spacingAndGlyphs">فوریه</text>
<line x1="89.5" y1="794" x2="89.5" y2="798" stroke="#d1d4dc" stroke-width="1"/>
<text x="89.5" y="811" text-anchor="middle" clip-path="url(#taxis)">15</text>
<line x1="206.5" y1="794" x2="206.5" y2="798" stroke="#d1d4dc" stroke-width="1"/>
<text x="206.5" y="811" text-anchor="middle" clip-path="url(#taxis)" font-weight="bold" textLength="26.5" lengthAdjust="spacingAndGlyphs">مارس</text>
<line x1="287.5" y1="794" x2="287.5" y2="798" stroke="#d1d4dc" stroke-width="1"/>
<text x="287.5" y="811" text-anchor="middle" clip-path="url(#taxis)">10</text>
<line x1="415.5" y1="794" x2="415.5" y2="798" stroke="#d1d4dc" stroke-width="1"/>
<text x="415.5" y="811" text-anchor="middle" clip-path="url(#taxis)" font-weight="bold" textLength="26" lengthAdjust="spacingAndGlyphs">آوریل</text>
<line x1="497.5" y1="794" x2="497.5" y2="798" stroke="#d1d4dc" stroke-width="1"/>
<text x="497.5" y="811" text-anchor="middle" clip-path="url(#taxis)">14</text>
<line x1="648.5" y1="794" x2="648.5" y2="798" stroke="#d1d4dc" stroke-width="1"/>
<text x="648.5" y="811" text-anchor="middle" clip-path="url(#taxis)" font-weight="bold" textLength="16" lengthAdjust="spacingAndGlyphs">می</text>
<line x1="730.5" y1="794" x2="730.5" y2="798" stroke="#d1d4dc" stroke-width="1"/>
<text x="730.5" y="811" text-anchor="middle" clip-path="url(#taxis)">12</text>
<line x1="811.5" y1="794" x2="811.5" y2="798" stroke="#d1d4dc" stroke-width="1"/>
<text x="811.5" y="811" text-anchor="middle" clip-path="url(#taxis)">21</text>
<line x1="893.5" y1="794" x2="893.5" y2="798" stroke="#d1d4dc" stroke-width="1"/>
<text x="893.5" y="811" text-anchor="middle" clip-path="url(#taxis)" font-weight="bold" textLength="22" lengthAdjust="spacingAndGlyphs">ژوئن</text>
<line x1="1021.5" y1="794" x2="1021.5" y2="798" stroke="#d1d4dc" stroke-width="1"/>
<text x="1021.5" y="811" text-anchor="middle" clip-path="url(#taxis)" font-weight="bold">Jul</text>
<line x1="1102.5" y1="794" x2="1102.5" y2="798" stroke="#d1d4dc" stroke-width="1"/>
<text x="1102.5" y="811" text-anchor="middle" clip-path="url(#taxis)">14</text>
<line x1="1218.5" y1="794" x2="1218.5" y2="798" stroke="#d1d4dc" stroke-width="1"/>
<text x="1218.5" y="811" text-anchor="middle" clip-path="url(#taxis)" font-weight="bold" textLength="36" lengthAdjust="spacingAndGlyphs">آگوست</text>
<line x1="1300.5" y1="794" x2="1300.5" y2="798" stroke="#d1d4dc" stroke-width="1"/>
<text x="1300.5" y="811" text-anchor="middle" clip-path="url(#taxis)">11</text>
<line x1="1381.5" y1="794" x2="1381.5" y2="798" stroke="#d1d4dc" stroke-width="1"/>
<text x="1381.5" y="811" text-anchor="middle" clip-path="url(#taxis)">20</text>
<line x1="1463.5" y1="794" x2="1463.5" y2="798" stroke="#d1d4dc" stroke-width="1"/>
<text x="1463.5" y="811" text-anchor="middle" clip-path="url(#taxis)" font-weight="bold">Sep</text>
<line x1="1544.5" y1="794" x2="1544.5" y2="798" stroke="#d1d4dc" stroke-width="1"/>
<text x="1544.5" y="811" text-anchor="middle" clip-path="url(#taxis)">14</text>
<line x1="1696.5" y1="794" x2="1696.5" y2="798" stroke="#d1d4dc" stroke-width="1"/>
<text x="1696.5" y="811" text-anchor="middle" clip-path="url(#taxis)" font-weight="bold" textLength="22.5" lengthAdjust="spacingAndGlyphs">اکتبر</text>
<line x1="1777.5" y1="794" x2="1777.5" y2="798" stroke="#d1d4dc" stroke-width="1"/>
<text x="1777.5" y="811" text-anchor="middle" clip-path="url(#taxis)">12</text>
<line x1="1808" y1="53.5" x2="1812" y2="53.5" stroke="#d1d4dc" stroke-width="1"/>
<text x="1816.5" y="58">2500.00</text>
<line x1="1808" y1="93.5" x2="1812" y2="93.5" stroke="#d1d4dc" stroke-width="1"/>
<text x="1816.5" y="98">2400.00</text>
<line x1="1808" y1="136.5" x2="1812" y2="136.5" stroke="#d1d4dc" stroke-width="1"/>
<text x="1816.5" y="140">2300.00</text>
<line x1="1808" y1="180.5" x2="1812" y2="180.5" stroke="#d1d4dc" stroke-width="1"/>
<text x="1816.5" y="185">2200.00</text>
<line x1="1808" y1="226.5" x2="1812" y2="226.5" stroke="#d1d4dc" stroke-width="1"/>
<text x="1816.5" y="231">2100.00</text>
<line x1="1808" y1="264.5" x2="1812" y2="264.5" stroke="#d1d4dc" stroke-width="1"/>
<text x="1816.5" y="269">2020.00</text>
<line x1="1808" y1="305.5" x2="1812" y2="305.5" stroke="#d1d4dc" stroke-width="1"/>
<text x="1816.5" y="309">1940.00</text>
<line x1="1808" y1="346.5" x2="1812" y2="346.5" stroke="#d1d4dc" stroke-width="1"/>
<text x="1816.5" y="350">1860.00</text>
<line x1="1808" y1="390.5" x2="1812" y2="390.5" stroke="#d1d4dc" stroke-width="1"/>
<text x="1816.5" y="395">1780.00</text>
<line x1="1808" y1="433.5" x2="1812" y2="433.5" stroke="#d1d4dc" stroke-width="1"/>
<text x="1816.5" y="437">1705.00</text>
<line x1="1808" y1="477.5" x2="1812" y2="477.5" stroke="#d1d4dc" stroke-width="1"/>
<text x="1816.5" y="482">1630.00</text>
<line x1="1808" y1="515.5" x2="1812" y2="515.5" stroke="#d1d4dc" stroke-width="1"/>
<text x="1816.5" y="520">1570.00</text>
<line x1="1808" y1="553.5" x2="1812" y2="553.5" stroke="#d1d4dc" stroke-width="1"/>
<text x="1816.5" y="558">1510.00</text>
<line x1="1808" y1="594.5" x2="1812" y2="594.5" stroke="#d1d4dc" stroke-width="1"/>
<text x="1816.5" y="598">1450.00</text>
<line x1="1808" y1="636.5" x2="1812" y2="636.5" stroke="#d1d4dc" stroke-width="1"/>
<text x="1816.5" y="640">1390.00</text>
<line x1="1808" y1="672.5" x2="1812" y2="672.5" stroke="#d1d4dc" stroke-width="1"/>
<text x="1816.5" y="676">1340.00</text>
<line x1="1808" y1="702.5" x2="1812" y2="702.5" stroke="#d1d4dc" stroke-width="1"/>
<text x="1816.5" y="706">1300.00</text>
<line x1="1808" y1="733.5" x2="1812" y2="733.5" stroke="#d1d4dc" stroke-width="1"/>
<text x="1816.5" y="737">1260.00</text>
<line x1="1808" y1="765.5" x2="1812" y2="765.5" stroke="#d1d4dc" stroke-width="1"/>
<text x="1816.5" y="770">1220.00</text>
</g>
<path d="M1807,456h57a2,2 0 0 1 2,2v13a2,2 0 0 1 -2,2h-57z" fill="#2196f3"/>
<line x1="1807" y1="464.5" x2="1812" y2="464.5" stroke="#fff" stroke-width="1"/>
<text x="1816.5" y="469" font-family="Liberation Sans, sans-serif" font-size="12" font-weight="bold" fill="#fff">1652.08</text>
<path d="M1807,494h57a2,2 0 0 1 2,2v13a2,2 0 0 1 -2,2h-57z" fill="#2196f3"/>
<line x1="1807" y1="502.5" x2="1812" y2="502.5" stroke="#fff" stroke-width="1"/>
<text x="1816.5" y="507" font-family="Liberation Sans, sans-serif" font-size="12" font-weight="bold" fill="#fff">1590.23</text>
<path d="M1807,543h57a2,2 0 0 1 2,2v13a2,2 0 0 1 -2,2h-57z" fill="#ef5350"/>
<line x1="1807" y1="551.5" x2="1812" y2="551.5" stroke="#fff" stroke-width="1"/>
<text x="1816.5" y="556" font-family="Liberation Sans, sans-serif" font-size="12" font-weight="bold" fill="#fff">1513.00</text>
<path d="M1807,560h57a2,2 0 0 1 2,2v13a2,2 0 0 1 -2,2h-57z" fill="#2196f3"/>
<line x1="1807" y1="568.5" x2="1812" y2="568.5" stroke="#fff" stroke-width="1"/>
<text x="1816.5" y="573" font-family="Liberation Sans, sans-serif" font-size="12" font-weight="bold" fill="#fff">1496.58</text>
<path d="M1807,609h57a2,2 0 0 1 2,2v13a2,2 0 0 1 -2,2h-57z" fill="#2196f3"/>
<line x1="1807" y1="617.5" x2="1812" y2="617.5" stroke="#fff" stroke-width="1"/>
<text x="1816.5" y="622" font-family="Liberation Sans, sans-serif" font-size="12" font-weight="bold" fill="#fff">1415.74</text>
</svg>
<div class="frame"></div>
<div class="mono" style="left:6px;top:8px">Published on TradingView.com, September 15, 2025 09:24:30 UTC</div>
<div class="mono" style="left:6px;top:25px"><span dir="rtl">نهب هورﮔ</span></div>
<div class="mono" style="left:76px;top:25px">,</div>
<div class="mono" style="left:90px;top:25px">D</div>
<div class="mono" style="left:102px;top:25px">O:1595.00</div>
<div class="mono" style="left:170px;top:25px">H:1595.00</div>
<div class="mono" style="left:238px;top:25px">L:1513.00</div>
<div class="mono" style="left:306px;top:25px">C:1513.00</div>
<div class="mono" style="left:15px;top:56px">1D ,<span dir="rtl">نهبهورﮔ</span></div>
<div class="mono" style="left:15px;top:73px"><span dir="rtl">مج</span></div>
<div class="mono" style="left:15px;top:90px">SuperTrend (10, 3)</div>
<div class="mono" style="left:15px;top:107px">MA (25, close, 0)</div>
<div class="mono" style="left:15px;top:124px">Ichimoku (9, 26, 52, 26)</div>
<svg class="logo" width="24" height="12" viewBox="0 0 24 12" style="position:absolute;left:6px;top:833.3px">
<path d="M0,0H8.8V11.3H4.2V5H0Z" fill="#131722"/><circle cx="12.9" cy="2.5" r="2" fill="#131722"/><path d="M16.3,0H22.2L17.9,11.3H13.1Z" fill="#131722"/>
</svg>
<svg width="140" height="20" style="position:absolute;left:0;top:830px"><text x="33.4" y="14.6" textLength="91.3" lengthAdjust="spacingAndGlyphs" font-family="Liberation Sans, sans-serif" font-weight="bold" font-size="15.6" fill="#131722">TradingView</text></svg>
</div>
</body></html>
